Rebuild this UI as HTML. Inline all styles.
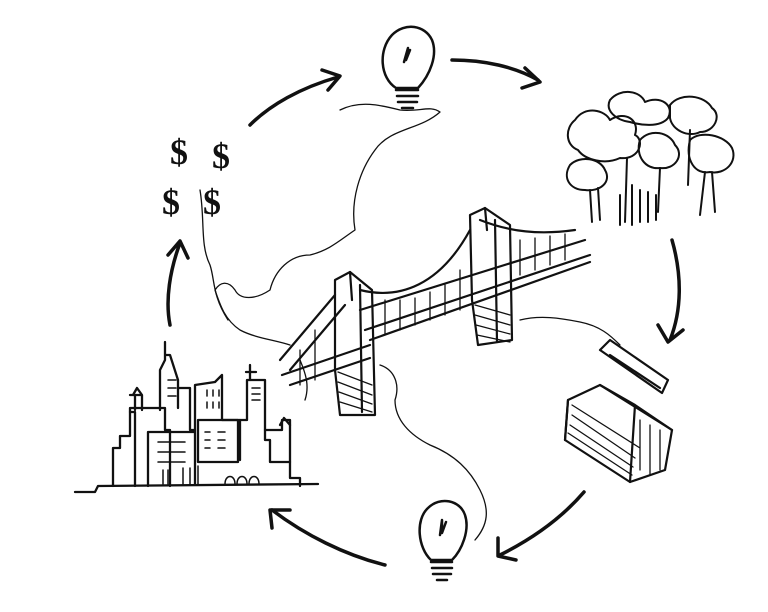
<!DOCTYPE html>
<html><head><style>html,body{margin:0;padding:0;background:#fff}svg{display:block}</style></head>
<body>
<svg width="768" height="612" viewBox="0 0 768 612" xmlns="http://www.w3.org/2000/svg" fill="none" stroke="#111" stroke-linecap="round" stroke-linejoin="round">
<g stroke-width="1.3">
<path d="M340 110 C360 100 380 105 400 110 C420 112 430 105 440 112 C420 130 390 128 375 150 C360 170 350 200 355 230 C340 240 330 250 310 255 C290 255 275 270 270 290 C255 300 240 300 235 290 C228 280 220 282 215 290 C220 305 225 320 240 330 C255 338 275 340 290 345"/>
<path d="M200 190 C205 220 200 245 210 265 C215 280 212 295 228 320"/>
<path d="M380 365 C395 370 400 385 395 400 C395 420 410 435 430 445 C455 455 470 470 480 490 C490 510 488 525 475 540"/>
<path d="M520 320 C540 315 560 318 580 322 C600 326 610 335 620 345"/>
<path d="M300 360 C305 372 310 385 305 400"/>
</g>
<g stroke-width="3.5">
<path d="M250 125 C270 105 300 88 338 77"/><path d="M322 70 L340 76 L328 90"/>
<path d="M452 60 C485 60 515 67 538 80"/><path d="M525 68 L540 82 L522 88"/>
<path d="M672 240 C682 275 682 310 670 340"/><path d="M658 325 L668 342 L683 330"/>
<path d="M584 492 C560 520 530 540 500 555"/><path d="M498 538 L498 556 L516 560"/>
<path d="M385 565 C345 555 305 535 272 510"/><path d="M272 528 L270 510 L290 510"/>
<path d="M170 325 C165 300 170 270 180 243"/><path d="M168 255 L180 241 L188 258"/>
</g>
<g stroke-width="2.5">
<path d="M396 88 C380 78 378 50 392 35 C405 22 425 25 432 40 C438 55 430 75 418 88 Z"/>
<path d="M396 90 L418 90 M397 96 L418 96 M398 102 L417 102 M402 108 L413 108"/>
<path d="M404 62 L408 48 L406 60 L410 50"/>
<path d="M431 560 C418 548 415 520 428 508 C440 496 460 500 465 515 C470 530 462 550 452 560 Z"/>
<path d="M431 562 L452 562 M432 568 L452 568 M433 574 L451 574 M437 580 L447 580"/>
<path d="M440 535 L442 520 L442 533 L446 522"/>
</g>
<g font-family="Liberation Serif, serif" font-size="36" fill="#111" stroke="none" font-weight="bold">
<text x="170" y="164">$</text><text x="212" y="168">$</text>
<text x="162" y="214">$</text><text x="203" y="214">$</text>
</g>
<g stroke-width="2">
<path d="M575 120 C585 105 605 110 610 120 C625 110 640 120 635 135 C645 140 640 160 620 158 C605 165 585 160 578 150 C565 145 565 128 575 120Z"/>
<path d="M610 100 C620 88 640 90 645 102 C660 95 675 105 668 118 C660 128 640 125 630 122 C615 120 605 110 610 100Z"/>
<path d="M670 105 C680 92 705 95 712 108 C722 115 715 132 700 132 C688 138 672 130 670 118Z"/>
<path d="M690 140 C700 130 725 135 732 148 C738 162 725 175 710 172 C695 175 685 160 690 140Z"/>
<path d="M640 140 C650 128 670 132 675 145 C685 155 675 170 660 168 C645 170 635 155 640 140Z"/>
<path d="M570 165 C580 155 600 158 605 170 C612 182 600 192 585 190 C570 190 562 178 570 165Z"/>
<path d="M598 188 L600 220 M590 190 L592 222 M627 158 L625 222 M660 168 L658 212 M705 172 L700 215 M712 172 L715 212 M690 130 L688 185"/>
<path d="M632 185 L632 225 M640 190 L640 222 M648 192 L648 222 M656 195 L656 220 M620 195 L620 225"/>
</g>
<g stroke-width="2.2">
<path d="M280 360 L335 295 M290 370 L345 305"/>
<path d="M360 290 C400 300 440 285 470 230 M360 310 L585 240 M365 330 L590 255 M370 340 L590 262"/>
<path d="M282 375 L370 345 M290 385 L370 358"/>
<path d="M480 220 C510 232 540 235 575 230"/>
<path d="M335 280 L350 272 L372 290 L375 415 L340 415 L335 370 Z"/>
<path d="M350 272 L352 300 M360 285 L362 412"/>
<path d="M470 215 L485 208 L510 225 L512 340 L478 345 L472 300 Z"/>
<path d="M485 208 L487 230 M495 220 L497 342"/>
<g stroke-width="1.3">
<path d="M300 350 L300 385 M315 330 L315 380 M385 300 L385 335 M400 300 L400 330 M415 298 L415 325 M430 292 L430 320 M445 285 L445 315 M460 270 L460 310 M520 240 L520 275 M535 238 L535 270 M550 236 L550 265 M565 234 L565 260"/>
<path d="M338 372 L372 385 M338 382 L372 395 M339 392 L372 404 M340 402 L372 412 M475 305 L510 315 M475 315 L510 325 M476 325 L510 334 M477 335 L510 342"/>
</g>
</g>
<g stroke-width="2.2">
<path d="M568 400 L600 385 L672 430 L665 470 L630 482 L565 440 Z"/>
<path d="M565 440 L568 400 M600 385 L635 405 L630 482 M635 405 L672 430"/>
<g stroke-width="1.3"><path d="M572 405 L640 448 M572 415 L635 458 M570 425 L633 467 M568 433 L632 475 M640 420 L640 470 M650 425 L650 475 M660 430 L660 470"/></g>
<path d="M600 350 L610 340 L668 380 L662 393 Z M610 355 L660 388"/>
</g>
<g stroke-width="2.3">
<path d="M75 492 L95 492 L98 486 L318 484"/>
<path d="M113 486 L113 448 L120 448 L120 436 L130 436 L130 412 L135 412 L135 486"/>
<path d="M130 412 L130 408 L165 408 L165 430 L170 430 L170 486"/>
<path d="M160 410 L160 370 L165 360 L165 342 L165 355 L170 355 L178 380 L178 408"/>
<path d="M178 388 L190 388 L190 430 L195 430 L195 385 L215 382 L222 375 L222 420 L240 420 L240 460"/>
<path d="M148 432 L148 486 M148 432 L195 432 M195 430 L195 484"/>
<path d="M240 420 L247 420 L247 380 L265 380 L265 440 L270 440 L270 462 L290 462 L290 478 L300 478 L300 486"/>
<path d="M265 430 L282 430 L282 420 L290 420 L290 462"/>
<path d="M250 380 L250 365 M246 372 L256 372"/>
<path d="M135 395 L135 410 M130 395 L142 395 L142 410 M133 395 L137 388 L142 395"/>
<path d="M280 425 L284 418 L290 425"/>
<rect x="198" y="420" width="40" height="42"/>
</g>
<g stroke-width="1.5">
<path d="M158 442 L185 442 M158 452 L185 452 M158 462 L185 462"/>
<path d="M207 390 L207 396 M213 390 L213 396 M219 390 L219 396 M207 402 L207 408 M213 402 L213 408 M219 402 L219 408 M252 388 L260 388 M252 394 L260 394 M252 400 L260 400"/>
<path d="M205 432 L210 432 M218 432 L225 432 M205 440 L210 440 M218 440 L225 440 M205 448 L210 448 M218 448 L225 448"/>
<path d="M163 470 L163 484 M168 470 L168 484 M183 468 L183 484 M190 468 L190 484 M198 466 L198 484"/>
<path d="M225 484 C225 474 235 474 235 484 M237 484 C237 474 247 474 247 484 M249 484 C249 474 259 474 259 484"/>
<path d="M168 380 L176 380 M168 388 L176 388 M168 396 L176 396"/>
</g>
</svg>
</body></html>
